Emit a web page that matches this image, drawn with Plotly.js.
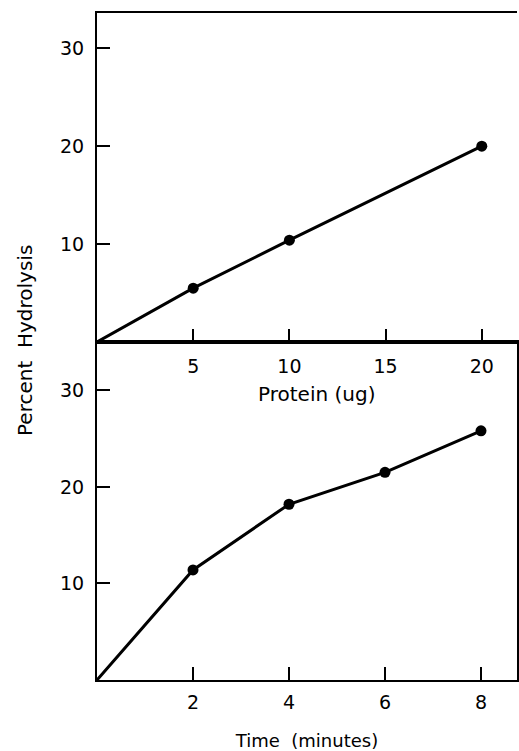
<!DOCTYPE html>
<html>
<head>
<meta charset="utf-8">
<script src="https://cdn.plot.ly/plotly-3.0.1.min.js"></script>
<style>html,body{margin:0;padding:0;background:#fff;}#chart{width:519px;height:751px;}</style>
</head>
<body>
<div id="chart"></div>
<script>
// Both curves start at the origin (no marker drawn there)
const originX = 0;
const originY = 0;

// Top panel: hydrolysis vs protein amount (measured points)
const proteinUg = [5, 10, 20];
const hydrolysisByProtein = [5.5, 10.4, 20.0];
const proteinTicks = [5, 10, 15, 20];

// Bottom panel: hydrolysis vs time (measured points)
const timeMin = [2, 4, 6, 8];
const hydrolysisByTime = [11.4, 18.2, 21.5, 25.8];
const timeTicks = [2, 4, 6, 8];

const percentTicks = [10, 20, 30];

const FONT = 'DejaVu Sans, sans-serif';
const lineStyle = {color: '#000', width: 3};
const markerStyle = {color: '#000', size: 11};

const traces = [
  {x: [originX].concat(proteinUg), y: [originY].concat(hydrolysisByProtein), xaxis: 'x', yaxis: 'y',
   mode: 'lines', line: lineStyle, cliponaxis: false, showlegend: false},
  {x: proteinUg, y: hydrolysisByProtein, xaxis: 'x', yaxis: 'y',
   mode: 'markers', marker: markerStyle, cliponaxis: false, showlegend: false},
  {x: [originX].concat(timeMin), y: [originY].concat(hydrolysisByTime), xaxis: 'x2', yaxis: 'y2',
   mode: 'lines', line: lineStyle, cliponaxis: false, showlegend: false},
  {x: timeMin, y: hydrolysisByTime, xaxis: 'x2', yaxis: 'y2',
   mode: 'markers', marker: markerStyle, cliponaxis: false, showlegend: false}
];

const axisCommon = {
  showline: true, linecolor: '#000', linewidth: 2,
  showgrid: false, zeroline: false,
  ticks: 'inside', ticklen: 13, tickwidth: 2, tickcolor: '#000',
  tickfont: {family: FONT, size: 19, color: '#000'},
  fixedrange: true
};

const split = 338 / 667;

const layout = {
  width: 519, height: 751,
  margin: {l: 97, r: 2, t: 13, b: 71},
  paper_bgcolor: '#fff', plot_bgcolor: '#fff',
  font: {family: FONT, color: '#000'},
  xaxis: Object.assign({}, axisCommon, {
    domain: [0, 1], anchor: 'y', range: [0, 21.83],
    tickvals: proteinTicks, mirror: true, ticklabelstandoff: 6
  }),
  yaxis: Object.assign({}, axisCommon, {
    domain: [split, 1], anchor: 'x', range: [0, 33.6],
    tickvals: percentTicks, ticklabelstandoff: 7
  }),
  xaxis2: Object.assign({}, axisCommon, {
    domain: [0, 1], anchor: 'y2', range: [0, 8.75],
    tickvals: timeTicks, mirror: true, ticklabelstandoff: 4,
    title: {text: 'Time  (minutes)', font: {family: FONT, size: 18, color: '#000'}, standoff: 24}
  }),
  yaxis2: Object.assign({}, axisCommon, {
    domain: [0, split], anchor: 'x2', range: [0, 35],
    tickvals: percentTicks, mirror: true, ticklabelstandoff: 7
  }),
  annotations: [
    {
      text: 'Protein (ug)',
      xref: 'paper', yref: 'paper', x: (316 - 97) / 420, y: (680 - 394) / 667,
      xanchor: 'center', yanchor: 'middle', showarrow: false,
      font: {family: FONT, size: 20, color: '#000'}
    },
    {
      text: 'Percent  Hydrolysis', textangle: -90,
      xref: 'paper', yref: 'paper', x: (25 - 97) / 420, y: (680 - 341) / 667,
      xanchor: 'center', yanchor: 'middle', showarrow: false,
      font: {family: FONT, size: 20, color: '#000'}
    }
  ]
};

Plotly.newPlot('chart', traces, layout, {displayModeBar: false, staticPlot: true});
</script>
</body>
</html>
